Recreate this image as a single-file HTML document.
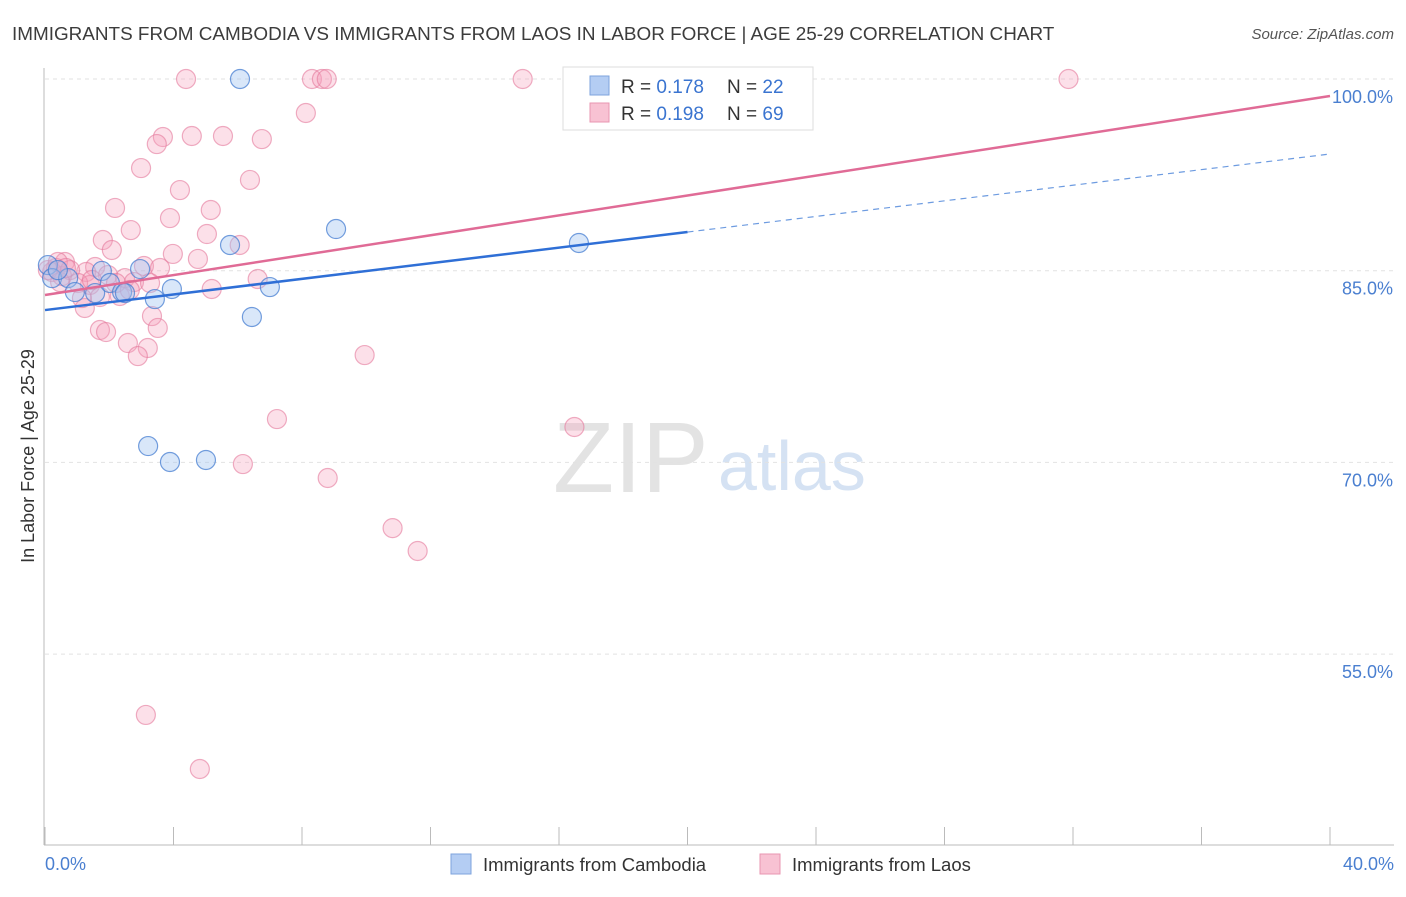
<!DOCTYPE html>
<html><head><meta charset="utf-8"><style>
body{margin:0;background:#fff;font-family:"Liberation Sans",sans-serif;}
svg text{font-family:"Liberation Sans",sans-serif;}
</style></head><body>
<svg id="c" width="1406" height="892" xmlns="http://www.w3.org/2000/svg">
<text x="12" y="40" font-size="18.9" fill="#3c3c3c">IMMIGRANTS FROM CAMBODIA VS IMMIGRANTS FROM LAOS IN LABOR FORCE | AGE 25-29 CORRELATION CHART</text>
<text x="1394" y="39" font-size="15" fill="#555" font-style="italic" text-anchor="end">Source: ZipAtlas.com</text>
<text x="34" y="456" font-size="18" fill="#333" text-anchor="middle" transform="rotate(-90 34 456)">In Labor Force | Age 25-29</text>
<text x="553" y="492" font-size="100" fill="#e3e3e3" font-family="Liberation Serif">ZIP</text>
<text x="718" y="490" font-size="70" fill="#d5e2f3">atlas</text>
<g id="grid"></g><g id="pts"></g><g id="lines"></g>
<g>
<rect x="563" y="67" width="250" height="63" fill="#fff" stroke="#ddd"/>
<rect x="590" y="76" width="19" height="19" fill="#b4cdf3" stroke="#7ea3dd"/>
<rect x="590" y="103" width="19" height="19" fill="#f8c2d3" stroke="#e896b0"/>
<text x="621" y="93" font-size="19" fill="#333">R = <tspan fill="#3a74d0">0.178</tspan></text>
<text x="727" y="93" font-size="19" fill="#333">N = <tspan fill="#3a74d0">22</tspan></text>
<text x="621" y="120" font-size="19" fill="#333">R = <tspan fill="#3a74d0">0.198</tspan></text>
<text x="727" y="120" font-size="19" fill="#333">N = <tspan fill="#3a74d0">69</tspan></text>
</g>
<g>
<rect x="451" y="854" width="20" height="20" fill="#b4cdf3" stroke="#7ea3dd"/>
<text x="483" y="871" font-size="18.5" fill="#333">Immigrants from Cambodia</text>
<rect x="760" y="854" width="20" height="20" fill="#f8c2d3" stroke="#e896b0"/>
<text x="792" y="871" font-size="18.5" fill="#333">Immigrants from Laos</text>
</g>
</svg>
<script>
const yTicks=[100,85,70,55];
const yTickLabels=["100.0%","85.0%","70.0%","55.0%"];
const xEndLabels=["0.0%","40.0%"];
const cambX=[0.09,0.22,0.72,0.93,1.56,1.77,2.02,2.40,2.96,3.42,3.95,3.21,3.89,5.01,5.76,6.07,6.44,7.00,9.06,16.62,0.40,2.49];
const cambY=[85.44,84.42,84.42,83.33,83.25,84.98,84.04,83.33,85.13,82.78,83.57,71.28,70.03,70.19,87.01,100,81.38,83.72,88.26,87.17,85.05,83.25];
const laosX=[4.39,8.31,8.62,8.77,14.87,31.86,8.12,3.67,4.57,5.54,6.75,3.48,2.99,4.20,6.38,2.18,5.16,3.89,2.67,1.80,5.04,6.06,2.08,3.98,4.76,3.08,3.58,1.56,0.62,0.34,0.22,0.53,1.28,1.96,2.49,2.77,6.62,5.19,1.40,1.71,2.33,1.24,3.33,1.71,1.90,3.51,2.58,3.20,2.89,9.95,7.22,16.48,6.16,8.80,10.82,11.60,3.14,4.82,0.09,0.40,0.78,1.03,1.15,2.21,3.27,0.47,1.46,2.64,0.65];
const laosY=[100,100,100,100,100,100,97.34,95.46,95.54,95.54,95.30,94.91,93.03,91.31,92.10,89.91,89.75,89.12,88.18,87.40,87.87,87.01,86.62,86.31,85.92,85.37,85.21,85.29,85.68,85.21,84.90,84.58,84.90,84.66,84.42,84.11,84.35,83.57,83.88,82.94,83.02,82.08,81.45,80.36,80.20,80.52,79.34,78.95,78.32,78.40,73.39,72.77,69.87,68.78,64.86,63.07,50.24,46.01,85.05,85.68,85.05,84.04,82.86,84.04,84.04,84.11,84.27,83.49,85.21];
const cambTrend=[81.92,94.13];
const laosTrend=[83.10,98.67];
const X=v=>45+v/40*1285, Y=v=>79+(100-v)/15*191.7;
const NS="http://www.w3.org/2000/svg";
function mk(p,t,a){const e=document.createElementNS(NS,t);for(const k in a)e.setAttribute(k,a[k]);p.appendChild(e);return e;}
const g=document.getElementById('grid');
yTicks.forEach((t,i)=>{
 const l=mk(g,'line',{x1:45,x2:1394,y1:Y(t),y2:Y(t),stroke:'#e2e2e2','stroke-dasharray':'4 4'});
 
 
 const tx=mk(g,'text',{x:1393,y:Y(t)+24,'font-size':18,fill:'#4a7fd0','text-anchor':'end'});tx.textContent=yTickLabels[i];
 
 
});
const ax=mk(g,'line',{x1:44,x2:44,y1:68,y2:845,stroke:'#bbb'});


const bx=mk(g,'line',{x1:44,x2:1394,y1:845,y2:845,stroke:'#bbb'});


for(let v=0;v<=40;v+=4){const t=mk(g,'line',{x1:X(v),x2:X(v),y1:827,y2:845,stroke:'#bbb'});
 
 }
[[0,'start',45],[40,'end',1394]].forEach((d,i)=>{const t=mk(g,'text',{x:d[2],y:870,'font-size':18,fill:'#4a7fd0','text-anchor':d[1]});t.textContent=xEndLabels[i];
 
 });
const pg=document.getElementById('pts');
laosX.forEach((x,i)=>{const c=mk(pg,'circle',{cx:X(x),cy:Y(laosY[i]),r:9.5,fill:'rgba(245,160,188,0.32)',stroke:'rgba(228,120,155,0.6)','stroke-width':1.2});
 
 });
cambX.forEach((x,i)=>{const c=mk(pg,'circle',{cx:X(x),cy:Y(cambY[i]),r:9.5,fill:'rgba(160,195,240,0.4)',stroke:'rgba(70,125,210,0.75)','stroke-width':1.2});
 
 });
const lg=document.getElementById('lines');
const yc=v=>cambTrend[0]+(cambTrend[1]-cambTrend[0])*v/40;
let l1=mk(lg,'line',{x1:X(0),y1:Y(yc(0)),x2:X(20),y2:Y(yc(20)),stroke:'#2f6fd6','stroke-width':2.5});


let l2=mk(lg,'line',{x1:X(20),y1:Y(yc(20)),x2:X(40),y2:Y(yc(40)),stroke:'#6d9be0','stroke-width':1.2,'stroke-dasharray':'6 5'});


let l3=mk(lg,'line',{x1:X(0),y1:Y(laosTrend[0]),x2:X(40),y2:Y(laosTrend[1]),stroke:'#e06b96','stroke-width':2.5});


</script>
</body></html>
